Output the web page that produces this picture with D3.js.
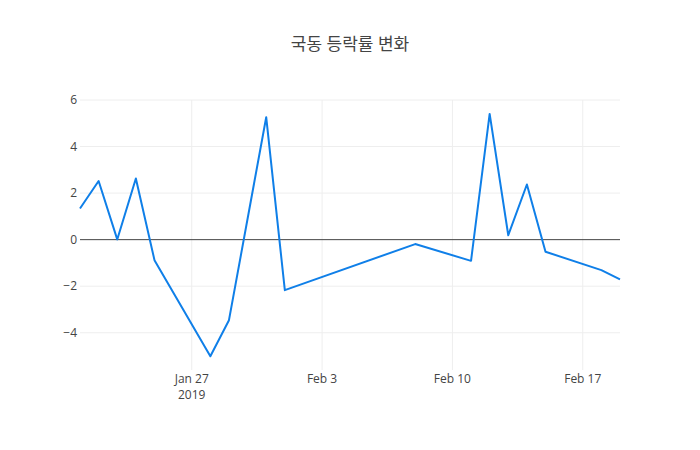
<!DOCTYPE html>
<html lang="ko">
<head>
<meta charset="utf-8">
<script src="https://d3js.org/d3.v7.min.js"></script>
<style>
  body { margin: 0; background: #fff; }
  text { font-family: "Open Sans", "Noto Sans CJK KR", sans-serif; }
</style>
</head>
<body>
<script>
  // trading days and daily change (%)
  var dates = ["2019-01-21", "2019-01-22", "2019-01-23", "2019-01-24", "2019-01-25",
               "2019-01-28", "2019-01-29", "2019-01-31", "2019-02-01", "2019-02-08",
               "2019-02-11", "2019-02-12", "2019-02-13", "2019-02-14", "2019-02-15",
               "2019-02-18", "2019-02-19"];
  var changes = [1.34, 2.52, 0.01, 2.63, -0.88,
                 -5.01, -3.46, 5.26, -2.17, -0.19,
                 -0.91, 5.40, 0.19, 2.37, -0.52,
                 -1.31, -1.71];
  var yTicks = [-4, -2, 0, 2, 4, 6];
  var xTicks = ["2019-01-27", "2019-02-03", "2019-02-10", "2019-02-17"];
  var title = "국동 등락률 변화";

  var width = 700, height = 450,
      margin = {top: 100, right: 80, bottom: 80, left: 80};

  var parse = d3.timeParse("%Y-%m-%d");
  var data = dates.map(function (d, i) { return {date: parse(d), value: changes[i]}; });

  var svg = d3.select("body").append("svg")
              .attr("width", width)
              .attr("height", height);

  var x = d3.scaleTime()
            .domain(d3.extent(data, function (d) { return d.date; }))
            .range([margin.left, width - margin.right]);

  var y = d3.scaleLinear()
            .domain([-5.6, 6.0])
            .range([height - margin.bottom, margin.top]);

  // grid lines
  svg.append("g").selectAll("line.gx")
     .data(xTicks.map(parse)).enter().append("line")
     .attr("x1", function (d) { return x(d); })
     .attr("x2", function (d) { return x(d); })
     .attr("y1", margin.top).attr("y2", height - margin.bottom)
     .attr("stroke", "#eee").attr("stroke-width", 1);

  svg.append("g").selectAll("line.gy")
     .data(yTicks.filter(function (t) { return t !== 0; })).enter().append("line")
     .attr("x1", margin.left).attr("x2", width - margin.right)
     .attr("y1", function (d) { return y(d); })
     .attr("y2", function (d) { return y(d); })
     .attr("stroke", "#eee").attr("stroke-width", 1);

  // zero line
  svg.append("line")
     .attr("x1", margin.left).attr("x2", width - margin.right)
     .attr("y1", y(0)).attr("y2", y(0))
     .attr("stroke", "#444").attr("stroke-width", 1);

  // y tick labels
  svg.append("g").selectAll("text")
     .data(yTicks).enter().append("text")
     .attr("x", margin.left - 3)
     .attr("y", function (d) { return y(d); })
     .attr("dy", "0.35em")
     .attr("text-anchor", "end")
     .attr("font-size", 12)
     .attr("fill", "#444")
     .text(function (d) { return d < 0 ? "\u2212" + Math.abs(d) : d; });

  // x tick labels
  var fmt = d3.timeFormat("%b %-d");
  var xl = svg.append("g").selectAll("text")
     .data(xTicks.map(parse)).enter().append("text")
     .attr("x", function (d) { return x(d); })
     .attr("y", height - margin.bottom + 13)
     .attr("text-anchor", "middle")
     .attr("font-size", 12)
     .attr("fill", "#444");
  xl.append("tspan").text(function (d) { return fmt(d); });
  xl.filter(function (d, i) { return i === 0; })
    .append("tspan")
    .attr("x", function (d) { return x(d); })
    .attr("dy", 16)
    .text(function (d) { return d.getFullYear(); });

  // line
  var line = d3.line()
               .x(function (d) { return x(d.date); })
               .y(function (d) { return y(d.value); });

  svg.append("path")
     .datum(data)
     .attr("d", line)
     .attr("fill", "none")
     .attr("stroke", "#0f7fe8")
     .attr("stroke-width", 2)
     .attr("stroke-linejoin", "round");

  // title
  svg.append("text")
     .attr("x", width / 2)
     .attr("y", 50)
     .attr("text-anchor", "middle")
     .attr("font-size", 17)
     .attr("fill", "#444")
     .text(title);
</script>
</body>
</html>
